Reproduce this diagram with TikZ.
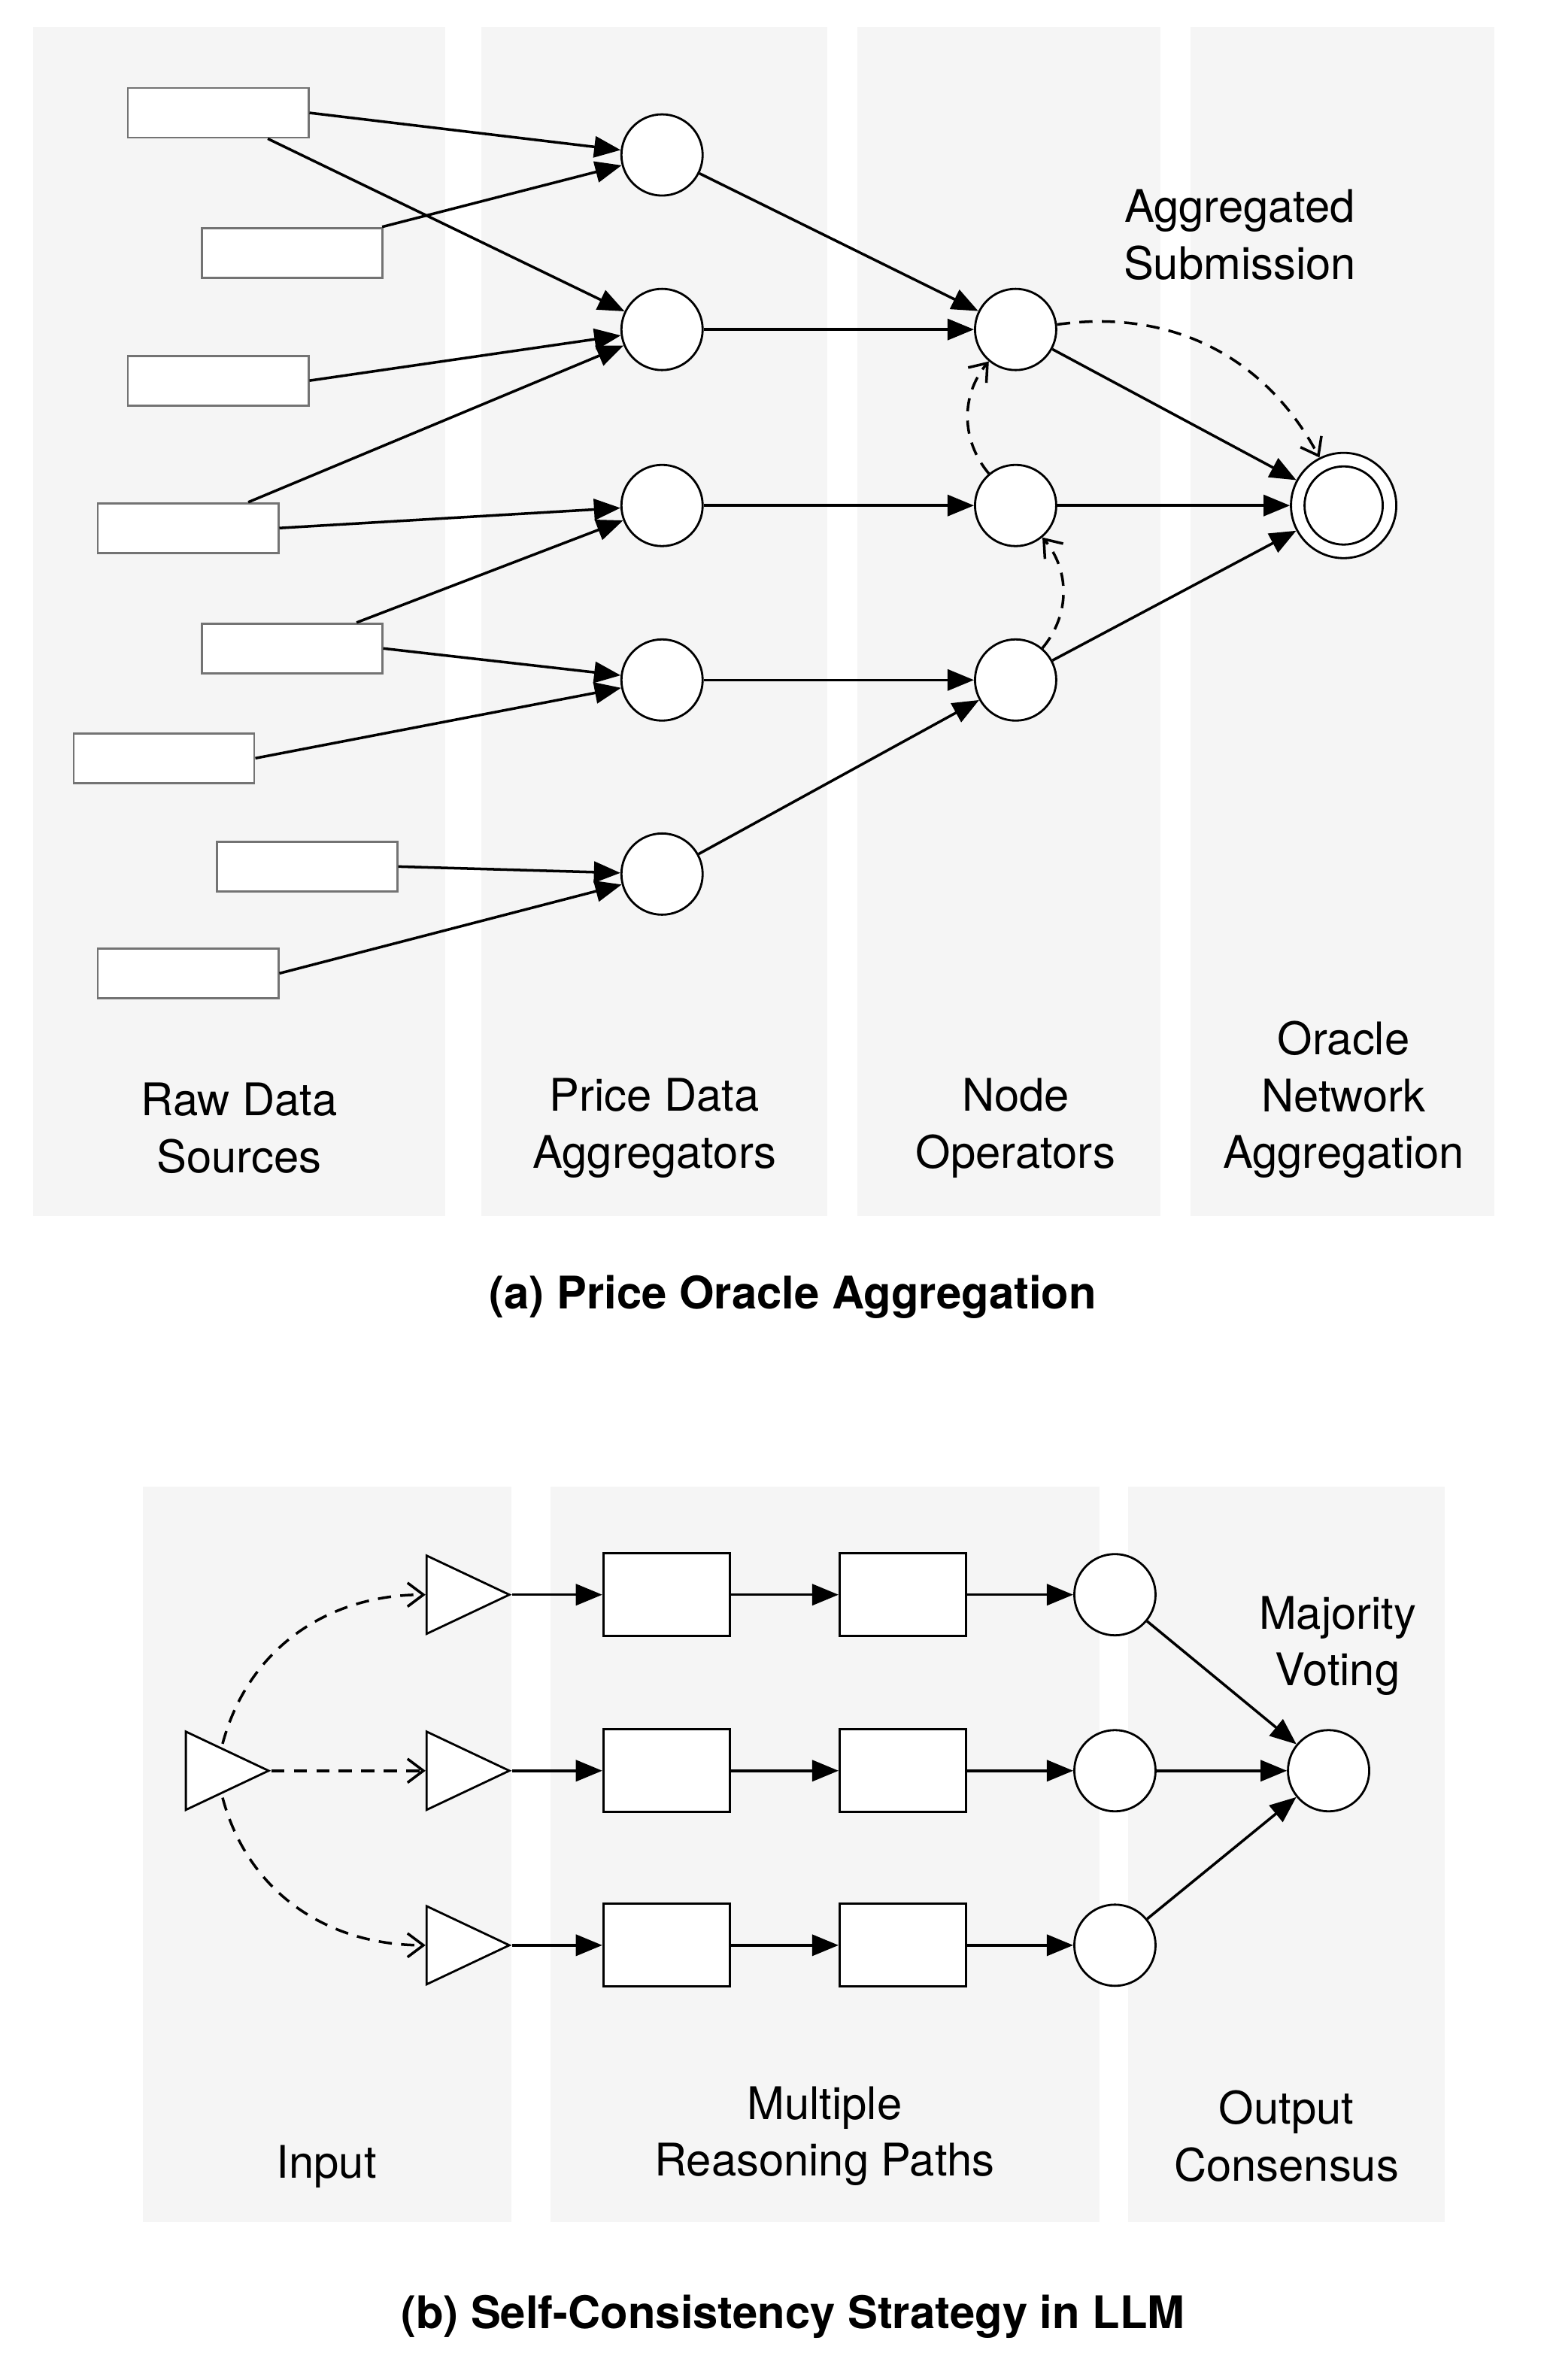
\documentclass[tikz,border=0pt]{standalone}
\usepackage{fontspec}
\setmainfont{TeX Gyre Heros}
\usetikzlibrary{positioning, arrows.meta, shapes.geometric}

\begin{document}
\begin{tikzpicture}[x=0.02cm, y=-0.02cm,
    panel/.style={fill=black!4, draw=none},
    src/.style={draw=black!55, thick, fill=white, minimum width=2.4cm, minimum height=0.66cm, inner sep=0pt},
    dot/.style={draw, thick, circle, fill=white, minimum size=1.08cm, inner sep=0pt},
    box/.style={draw, thick, fill=white, minimum width=1.68cm, minimum height=1.1cm, inner sep=0pt},
    tri/.style={draw, thick, isosceles triangle, isosceles triangle stretches, fill=white, minimum width=1.04cm, minimum height=1.1cm, inner sep=0pt},
    lbl/.style={align=center, font=\fontsize{17}{21.5}\selectfont},
    ttl/.style={font=\fontsize{17}{21}\selectfont\bfseries},
    edge/.style={->, >={Triangle[length=10pt, width=8pt]}, line width=1pt},
    dedge/.style={->, >={Straight Barb[length=6pt, width=9pt]}, line width=1pt, dash pattern=on 5pt off 3.5pt}]
        \useasboundingbox (0,0) rectangle (1024,1582);

        % Panels (a)
        \fill[panel] (22,18) rectangle (296,808);
        \fill[panel] (320,18) rectangle (550,808);
        \fill[panel] (570,18) rectangle (771,808);
        \fill[panel] (791,18) rectangle (993,808);

        % Raw data sources
        \node (r1) [src] at (145,75) {};
        \node (r2) [src] at (194,168) {};
        \node (r3) [src] at (145,253) {};
        \node (r4) [src] at (125,351) {};
        \node (r5) [src] at (194,431) {};
        \node (r6) [src] at (109,504) {};
        \node (r7) [src] at (204,576) {};
        \node (r8) [src] at (125,647) {};

        % Aggregators
        \node (a1) [dot] at (440,103) {};
        \node (a2) [dot] at (440,219) {};
        \node (a3) [dot] at (440,336) {};
        \node (a4) [dot] at (440,452) {};
        \node (a5) [dot] at (440,581) {};

        % Node operators
        \node (n1) [dot] at (675,219) {};
        \node (n2) [dot] at (675,336) {};
        \node (n3) [dot] at (675,452) {};

        % Oracle network
        \node (fin) [dot, minimum size=1.4cm] at (893,336) {};
        \node (finin) [dot, minimum size=1.04cm] at (fin) {};

        % Arrows
        \draw[edge] (r1.east) -- (a1);
        \draw[edge] ([xshift=0.66cm]r1.south) -- (a2);
        \draw[edge] ([xshift=1.2cm]r2.north) -- (a1);
        \draw[edge] (r3.east) -- (a2);
        \draw[edge] ([xshift=0.8cm]r4.north) -- (a2);
        \draw[edge] (r4.east) -- (a3);
        \draw[edge] ([xshift=0.86cm]r5.north) -- (a3);
        \draw[edge] (r5.east) -- (a4);
        \draw[edge] (r6.east) -- (a4);
        \draw[edge] (r7.east) -- (a5);
        \draw[edge] (r8.east) -- (a5);

        \draw[edge] (a1) -- (n1);
        \draw[edge] (a2) -- (n1);
        \draw[edge] (a3) -- (n2);
        \draw[edge] (a4) -- (n3);
        \draw[edge] (a5) -- (n3);

        \draw[edge] (n1) -- (fin);
        \draw[edge] (n2) -- (fin);
        \draw[edge] (n3) -- (fin);

        \draw[dedge] (n3) to[bend right=40] (n2);
        \draw[dedge] (n2) to[bend left=40] (n1);
        \draw[dedge] (n1) to[bend left=35] (fin);

        % Labels (a)
        \node (agg) [lbl] at (824,156) {Aggregated\\Submission};
        \node (lraw) [lbl] at (159,750) {Raw Data\\Sources};
        \node (lprice) [lbl] at (435,750) {Price Data\\Aggregators};
        \node (lnode) [lbl] at (675,750) {Node\\Operators};
        \node (lnet) [lbl] at (893,731) {Oracle\\Network\\Aggregation};
        \node (ta) [ttl] at (527,862) {(a) Price Oracle Aggregation};

        % Panels (b)
        \fill[panel] (95,988) rectangle (340,1477);
        \fill[panel] (366,988) rectangle (731,1477);
        \fill[panel] (750,988) rectangle (960,1477);

        % Input
        \node (in) [tri] at (140,1177) {};
        \node (t1) [tri] at (300,1060) {};
        \node (t2) [tri] at (300,1177) {};
        \node (t3) [tri] at (300,1293) {};

        % Reasoning paths
        \node (b11) [box] at (443,1060) {};
        \node (b12) [box] at (600,1060) {};
        \node (b21) [box] at (443,1177) {};
        \node (b22) [box] at (600,1177) {};
        \node (b31) [box] at (443,1293) {};
        \node (b32) [box] at (600,1293) {};

        \node (c1) [dot] at (741,1060) {};
        \node (c2) [dot] at (741,1177) {};
        \node (c3) [dot] at (741,1293) {};
        \node (vote) [dot] at (883,1177) {};

        % Arrows (b)
        \draw[dedge] ([shift={(-0.1cm,0.1cm)}]in.north east) to[out=75, in=180] (t1.west);
        \draw[dedge] (in.east) -- (t2.west);
        \draw[dedge] ([shift={(-0.1cm,-0.1cm)}]in.south east) to[out=-75, in=180] (t3.west);

        \draw[edge] (t1.east) -- (b11);
        \draw[edge] (b11) -- (b12);
        \draw[edge] (b12) -- (c1);
        \draw[edge] (t2.east) -- (b21);
        \draw[edge] (b21) -- (b22);
        \draw[edge] (b22) -- (c2);
        \draw[edge] (t3.east) -- (b31);
        \draw[edge] (b31) -- (b32);
        \draw[edge] (b32) -- (c3);

        \draw[edge] (c1) -- (vote);
        \draw[edge] (c2) -- (vote);
        \draw[edge] (c3) -- (vote);

        % Labels (b)
        \node (maj) [lbl] at (889,1094) {Majority\\Voting};
        \node (linput) [lbl] at (217,1440) {Input};
        \node (lpaths) [lbl] at (548,1420) {Multiple\\Reasoning Paths};
        \node (lout) [lbl] at (855,1420) {Output\\Consensus};
        \node (tb) [ttl] at (527,1540) {(b) Self-Consistency Strategy in LLM};
\end{tikzpicture}
\end{document}
